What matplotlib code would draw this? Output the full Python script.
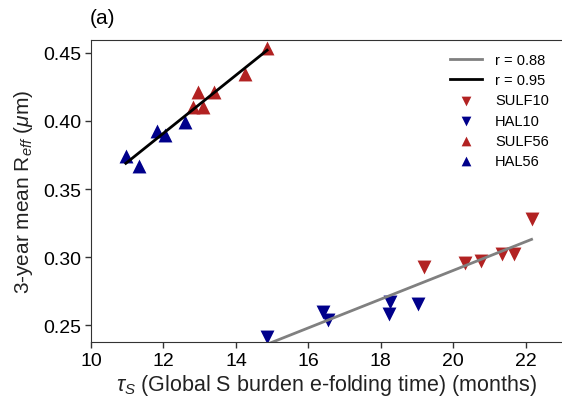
import numpy as np
import matplotlib
matplotlib.use("Agg")
import matplotlib.pyplot as plt

plt.rcParams['font.family'] = ['Liberation Sans', 'DejaVu Sans']
plt.rcParams['mathtext.fontset'] = 'custom'
plt.rcParams['mathtext.rm'] = 'Liberation Sans'
plt.rcParams['mathtext.it'] = 'Liberation Sans:italic'

# e-folding time (months) and 3-year mean effective radius (um)
sulf10_tau = [19.20, 20.31, 20.77, 21.35, 21.67, 22.16]
sulf10_reff = [0.2929, 0.2960, 0.2970, 0.3026, 0.3021, 0.3278]
hal10_tau = [14.85, 16.41, 16.54, 18.25, 18.23, 19.03]
hal10_reff = [0.2416, 0.2599, 0.2537, 0.2672, 0.2581, 0.2653]
sulf56_tau = [12.82, 12.96, 13.10, 13.39, 14.24, 14.86]
sulf56_reff = [0.4100, 0.4216, 0.4100, 0.4216, 0.4344, 0.4539]
hal56_tau = [10.96, 11.33, 11.81, 12.05, 12.60]
hal56_reff = [0.3740, 0.3670, 0.3930, 0.3900, 0.3990]

RED = '#B22222'
BLUE = '#00008B'

fig = plt.figure(figsize=(5.62, 4.10), dpi=100)
ax = fig.add_axes([0.162, 0.163, 0.838, 0.737])

def fit_line(xs, ys):
    xs = np.asarray(xs); ys = np.asarray(ys)
    k, b = np.polyfit(xs, ys, 1)
    xx = np.array([xs.min(), xs.max()])
    return xx, k * xx + b

x10 = hal10_tau + sulf10_tau
y10 = hal10_reff + sulf10_reff
x56 = hal56_tau + sulf56_tau
y56 = hal56_reff + sulf56_reff

lx, ly = fit_line(x10, y10)
ax.plot(lx, ly, color='gray', lw=2, label='r = 0.88', zorder=3)
lx, ly = fit_line(x56, y56)
ax.plot(lx, ly, color='black', lw=2, label='r = 0.95', zorder=3)

ms = 100
ax.scatter(sulf10_tau, sulf10_reff, marker='v', s=ms, color=RED, label='SULF10', zorder=2, linewidths=0)
ax.scatter(hal10_tau, hal10_reff, marker='v', s=ms, color=BLUE, label='HAL10', zorder=2, linewidths=0)
ax.scatter(sulf56_tau, sulf56_reff, marker='^', s=ms, color=RED, label='SULF56', zorder=2, linewidths=0)
ax.scatter(hal56_tau, hal56_reff, marker='^', s=ms, color=BLUE, label='HAL56', zorder=2, linewidths=0)

ax.set_xlim(10, 23)
ax.set_ylim(0.2375, 0.4595)
ax.set_xticks([10, 12, 14, 16, 18, 20, 22])
ax.set_yticks([0.25, 0.30, 0.35, 0.40, 0.45])
ax.set_yticklabels(['0.25', '0.30', '0.35', '0.40', '0.45'])
ax.tick_params(labelsize=14, direction='out', length=4, width=1, pad=3,
               colors='#333333', labelcolor='black')
ax.spines['right'].set_visible(False)
for s in ['left', 'bottom', 'top']:
    ax.spines[s].set_color('#333333')

ax.set_xlabel(r'$\tau_S$ (Global S burden e-folding time) (months)', fontsize=15.5,
              color='#222222', labelpad=2)
ax.set_ylabel(r'3-year mean R$_{eff}$ ($\mu$m)', fontsize=15, color='#222222', labelpad=6)

leg = ax.legend(loc='upper right', frameon=False, fontsize=10.5, markerscale=0.7,
                handlelength=2.2, handletextpad=0.9, labelspacing=0.42,
                bbox_to_anchor=(1.0, 1.0))

fig.text(0.160, 0.955, '(a)', fontsize=15, ha='left', va='center')

fig.savefig('out.png', dpi=100)
